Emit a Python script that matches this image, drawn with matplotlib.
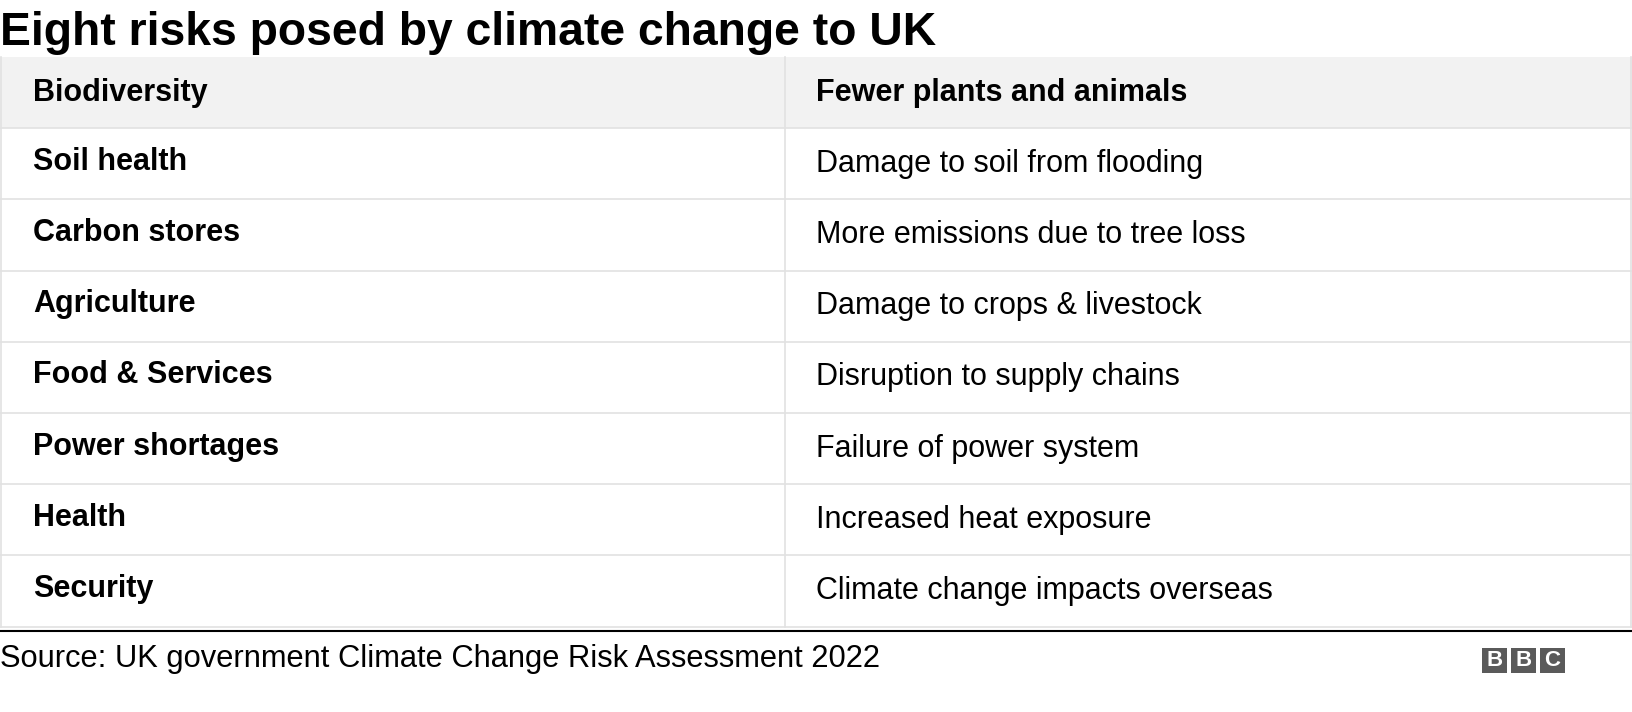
import matplotlib
matplotlib.use('Agg')
import matplotlib.pyplot as plt
from matplotlib.patches import Rectangle

title = "Eight risks posed by climate change to UK"
header = ["Biodiversity", "Fewer plants and animals"]
risks = ["Soil health", "Carbon stores", "Agriculture", "Food & Services",
         "Power shortages", "Health", "Security"]
impacts = ["Damage to soil from flooding", "More emissions due to tree loss",
           "Damage to crops & livestock", "Disruption to supply chains",
           "Failure of power system", "Increased heat exposure",
           "Climate change impacts overseas"]
source = "Source: UK government Climate Change Risk Assessment 2022"

plt.rcParams['font.family'] = 'Liberation Sans'
fig = plt.figure(figsize=(16.32, 7.12), dpi=100)
ax = fig.add_axes([0, 0, 1, 1])
ax.set_xlim(0, 1632)
ax.set_ylim(712, 0)
ax.axis('off')

ax.text(0, 45, title, fontsize=33.3, fontweight='bold', va='baseline')

top = 57
rowh = 71.2
left, right, mid = 0, 1632, 785
lc = '#e2e2e2'
fs = 22

# header row
ax.add_patch(Rectangle((left, top), right - left, rowh, color='#f2f2f2', lw=0))
ax.text(33, top + rowh / 2, header[0], fontsize=fs, fontweight='bold', va='center')
ax.text(816, top + rowh / 2, header[1], fontsize=fs, fontweight='bold', va='center')

for i, (r, imp) in enumerate(zip(risks, impacts)):
    y0 = top + rowh * (i + 1)
    ax.text(33, y0 + rowh / 2 - 2, r, fontsize=fs, fontweight='bold', va='center')
    ax.text(816, y0 + rowh / 2, imp, fontsize=fs, va='center')
    ax.plot([left, right], [y0, y0], color=lc, lw=1.2)

bottom = top + rowh * 8
ax.plot([left, right], [bottom, bottom], color=lc, lw=1.2)
ax.plot([mid, mid], [top, bottom], color=lc, lw=1.2)
ax.plot([left + 0.5, left + 0.5], [top, bottom], color=lc, lw=1.2)
ax.plot([right - 1, right - 1], [top, bottom], color=lc, lw=1.2)

ax.plot([0, 1632], [631, 631], color='black', lw=1.5)
ax.text(0, 659, source, fontsize=22.2, va='center')

# BBC blocks
for k, ch in enumerate("BBC"):
    x0 = 1482 + k * 29
    ax.add_patch(Rectangle((x0, 648), 25, 25, color='#5a5a5a', lw=0))
    ax.text(x0 + 12.5, 661, ch, fontsize=16, fontweight='bold', color='white',
            ha='center', va='center')

fig.savefig('out.png', dpi=100)
